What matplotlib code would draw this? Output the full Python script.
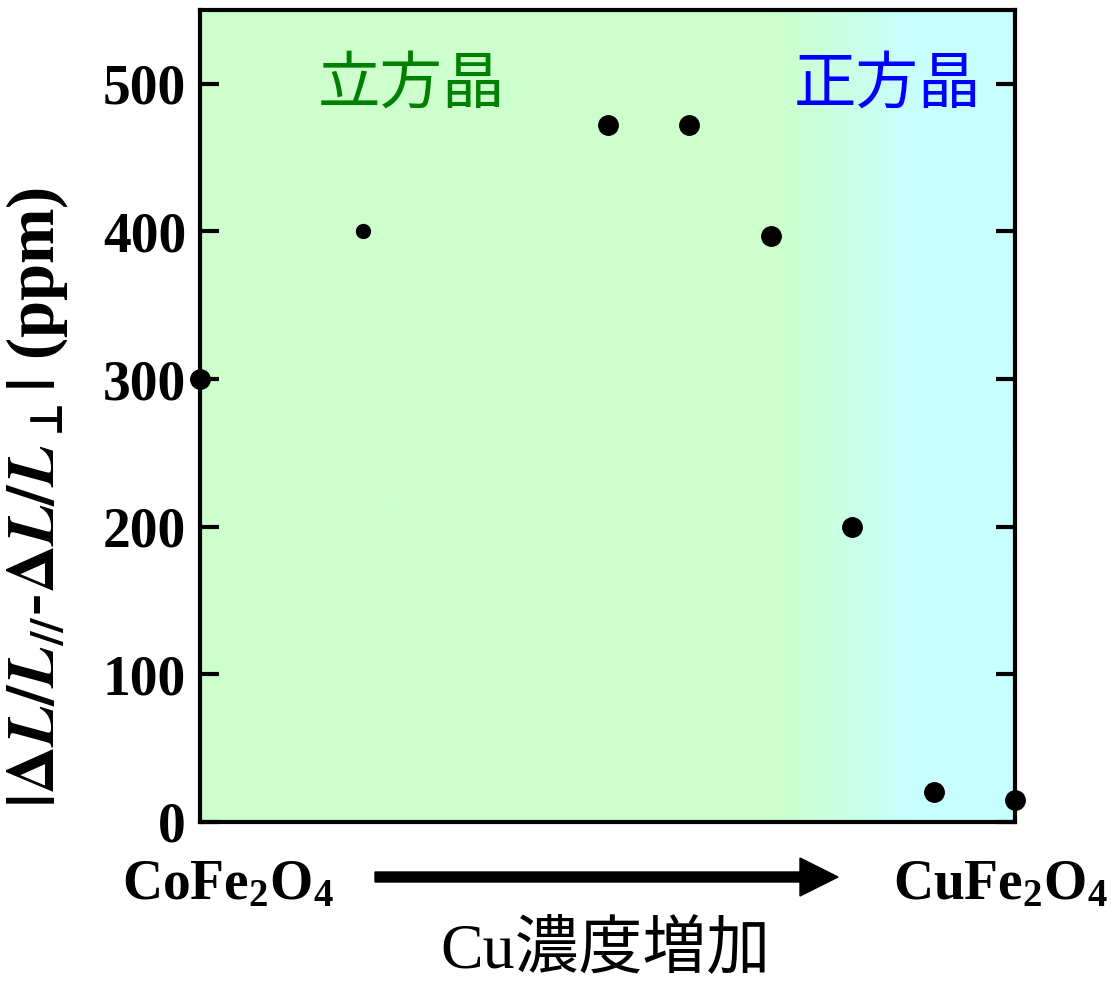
import numpy as np
import matplotlib
matplotlib.use('Agg')
import matplotlib.pyplot as plt
from matplotlib.colors import LinearSegmentedColormap

plt.rcParams.update({
    'font.family': 'Liberation Serif', 'font.weight': 'bold',
    'mathtext.fontset': 'custom',
    'mathtext.rm': 'Liberation Serif:bold',
    'mathtext.bf': 'Liberation Serif:bold',
    'mathtext.it': 'Liberation Serif:bold:italic',
})

# ── Data ──
x_pos = [0, 2, 5, 6, 7, 8, 9, 10]
strain = [300, 400, 472, 472, 397, 200, 20, 15]
marker_size = [14, 10, 14, 14, 14, 14, 14, 14]
left_label = r"CoFe$_2$O$_4$"
right_label = r"CuFe$_2$O$_4$"
cubic_label = "立方晶"
tetra_label = "正方晶"
x_caption = "Cu濃度増加"
y_label = (r"$\mathbf{|\Delta}\mathbfit{L}\mathbf{/}\mathbfit{L}_{\mathbf{//}}$-"
           r"$\mathbf{\Delta}\mathbfit{L}\mathbf{/}\mathbfit{L}_{\mathbf{\bot}}\mathbf{|}$ (ppm)")

fig = plt.figure(figsize=(11.13, 9.81), dpi=100)
ax = fig.add_axes([200 / 1113, 1 - 822 / 981, 815 / 1113, 812 / 981])
ax.set_xlim(0, 10)
ax.set_ylim(0, 550)

# background gradient green -> cyan
cmap = LinearSegmentedColormap.from_list(
    "bg", [(0, "#ccffcc"), (0.71, "#ccffcc"), (0.88, "#c8ffff"), (1, "#c8ffff")])
grad = np.linspace(0, 1, 512).reshape(1, -1)
ax.imshow(grad, cmap=cmap, aspect="auto", extent=[0, 10, 0, 550], zorder=0)

for xv, yv, ms in zip(x_pos, strain, marker_size):
    ax.plot(xv, yv, "o", color="black", ms=ms, clip_on=False, zorder=5)

ax.set_xticks([])
ax.set_yticks([0, 100, 200, 300, 400, 500])
ax.tick_params(axis="y", direction="in", length=14, width=3, labelsize=40,
               right=True, pad=10)
for lbl in ax.get_yticklabels():
    lbl.set_fontweight("bold")
for sp in ax.spines.values():
    sp.set_linewidth(3)

ax.set_ylabel(y_label, fontsize=48, fontweight="bold", math_fontfamily="stix")
ax.yaxis.set_label_coords(-0.16, 0.40)

ax.text(0.145, 0.908, cubic_label, transform=ax.transAxes, fontsize=45,
        color="#008000", family="Noto Sans CJK JP", fontweight="normal",
        ha="left", va="center")
ax.text(0.728, 0.908, tetra_label, transform=ax.transAxes, fontsize=45,
        color="#0000ff", family="Noto Sans CJK JP", fontweight="normal",
        ha="left", va="center")

# bottom annotations
fig.text(122 / 1113, 1 - 885 / 981, left_label, fontsize=40, fontweight="bold",
         ha="left", va="center")
fig.text(893 / 1113, 1 - 885 / 981, right_label, fontsize=40, fontweight="bold",
         ha="left", va="center")
fig.patches.append(matplotlib.patches.FancyArrow(
    375 / 1113, 1 - 877 / 981, 425 / 1113, 0, width=10 / 981,
    head_width=38 / 981, head_length=38 / 1113, length_includes_head=False,
    color="black", transform=fig.transFigure, figure=fig))
fig.text(605 / 1113, 1 - 952 / 981, x_caption, fontsize=46, fontweight="normal",
         family=["Liberation Serif", "Noto Sans CJK JP"], ha="center", va="center")

fig.savefig("out.png", dpi=100)
